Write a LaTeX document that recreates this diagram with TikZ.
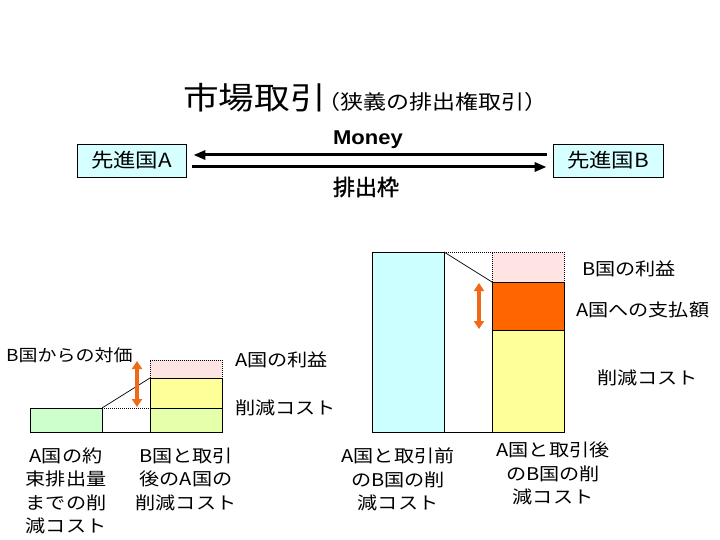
\documentclass[tikz,border=0pt]{standalone}
\usepackage{fontspec}
\usetikzlibrary{arrows.meta}
\newfontfamily\jp[FakeStretch=1.15]{Noto Sans CJK JP}
\newfontfamily\jpbold[FakeBold=1.5]{Noto Sans CJK JP}
\newfontfamily\lat[FakeStretch=1.1]{Liberation Sans}
\definecolor{boxcyan}{RGB}{214,255,255}
\definecolor{bigcyan}{RGB}{204,255,255}
\definecolor{greenA}{RGB}{204,255,204}
\definecolor{ygreen}{RGB}{230,255,170}
\definecolor{yellowA}{RGB}{255,255,153}
\definecolor{pinkA}{RGB}{255,228,228}
\definecolor{orangeA}{RGB}{255,102,0}
\definecolor{arrowor}{RGB}{240,105,25}
\begin{document}
\begin{tikzpicture}[x=1pt,y=-1pt,
  lbl/.style={font=\jp\fontsize{17.5}{23.5}\selectfont, inner sep=0pt, align=center},
  cbox/.style={draw, fill=boxcyan, line width=0.8pt, minimum height=33pt, inner sep=0pt, font=\jp\fontsize{19.5}{19.5}\selectfont},
  bigarrow/.style={line width=3pt, -{Triangle[length=12pt,width=9pt]}},
  orarrow/.style={draw=arrowor, line width=3.5pt, {Triangle[length=8pt,width=10pt]}-{Triangle[length=8pt,width=10pt]}},
  edge/.style={line width=0.9pt},
  dotline/.style={line width=0.8pt, dash pattern=on 1pt off 1pt}
]
\useasboundingbox (0,0) rectangle (720,540);

% title
\node[anchor=base west, inner sep=0pt] (title) at (183,110)
  {{\jp\fontsize{31}{31}\selectfont 市場取引}\kern-8pt{\jp\fontsize{20}{20}\selectfont （狭義の排出権取引）}};

% countries
\node[cbox, minimum width=109pt] (A) at (131.5,160.5) {先進国A};
\node[cbox, minimum width=110pt] (B) at (608,160.5) {先進国B};

\draw[bigarrow] ([xshift=-6pt,yshift=5.5pt]B.west) -- ([xshift=7pt,yshift=5.5pt]A.east);
\draw[bigarrow] ([xshift=6pt,yshift=-6.5pt]A.east) -- ([xshift=-6pt,yshift=-6.5pt]B.west);

\node[inner sep=0pt, font=\lat\bfseries\fontsize{20}{20}\selectfont] (money) at (368,140) {Money};
\node[inner sep=0pt, font=\jpbold\fontsize{22}{22}\selectfont] (waku) at (366,187) {排出枠};

% left chart
\filldraw[fill=greenA, edge] (30,408) rectangle (102,432);
\draw[edge] (102,408) -- (102,432) -- (150,432) -- (150,408);
\draw[dotline] (102,408) -- (150,408);
\filldraw[fill=ygreen, edge] (150,408) rectangle (222,432);
\filldraw[fill=yellowA, edge] (150,378) rectangle (222,408);
\fill[pinkA] (150,360) rectangle (222,378);
\draw[dotline] (150,378) -- (150,360) -- (222,360) -- (222,378);
\draw[line width=0.7pt] (102,408) -- (150,378);
\draw[orarrow] (137,361) -- (137,407);

% right chart
\filldraw[fill=bigcyan, edge] (372,252) rectangle (444,432);
\draw[edge] (444,432) -- (492,432);
\draw[dotline] (444,252) -- (492,252);
\fill[pinkA] (492,252) rectangle (564,282);
\draw[dotline] (492,282) -- (492,252) -- (564,252) -- (564,282);
\filldraw[fill=orangeA, edge] (492,282) rectangle (564,330);
\filldraw[fill=yellowA, edge] (492,330) rectangle (564,432);
\draw[line width=0.7pt] (444,252) -- (492,282);
\draw[orarrow] (479,283) -- (479,329);

% labels
\node[lbl, anchor=west, font=\jp\fontsize{16.5}{23.5}\selectfont] (l1) at (6,355) {B国からの対価};
\node[lbl, anchor=west] (l2) at (235,360) {A国の利益};
\node[lbl, anchor=west] (l3) at (235,408) {削減コスト};
\node[lbl] (l4) at (66,491) {A国の約\\束排出量\\までの削\\減コスト};
\node[lbl] (l5) at (186,479) {B国と取引\\後のA国の\\削減コスト};

\node[lbl, anchor=west] (r1) at (582,269) {B国の利益};
\node[lbl, anchor=west] (r2) at (576,310) {A国への支払額};
\node[lbl, anchor=west] (r3) at (597,378) {削減コスト};
\node[lbl] (r4) at (398,479.5) {A国と取引前\\のB国の削\\減コスト};
\node[lbl] (r5) at (553,473.5) {A国と取引後\\のB国の削\\減コスト};
\end{tikzpicture}
\end{document}
